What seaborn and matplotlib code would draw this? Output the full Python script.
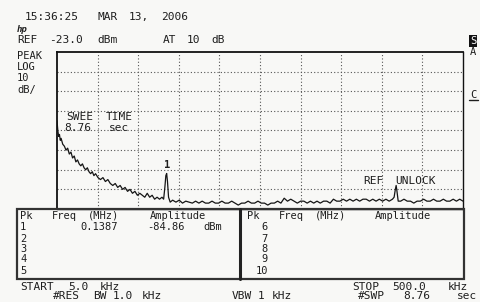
import matplotlib
matplotlib.use("Agg")
import matplotlib.pyplot as plt
import seaborn as sns
import pandas as pd
from matplotlib.patches import Rectangle
from matplotlib.lines import Line2D

# ---------------- data ----------------
freq_khz = [5, 6, 7, 8, 9, 10, 12, 14, 16, 18, 20, 22, 24, 26, 28, 30, 32, 34, 36, 38,
            40, 42, 44, 46, 48, 50, 52, 55, 58, 61, 64, 67, 70, 73, 76, 79, 82, 85, 88, 91,
            94, 97, 100, 103, 106, 109, 112, 115, 118, 121, 124, 127, 130, 133, 135, 136.5,
            137.7, 138.7, 139.7, 141, 143, 146, 150, 154, 158, 162, 166, 170, 174, 178, 182,
            186, 190, 194, 198, 202, 206, 210, 214, 218, 222, 226, 230, 234, 238, 242, 246,
            250, 254, 258, 262, 266, 270, 274, 278, 282, 286, 290, 294, 298, 302, 306, 310,
            314, 318, 322, 326, 330, 334, 338, 342, 346, 350, 354, 358, 362, 366, 370, 374,
            378, 382, 386, 390, 394, 398, 402, 406, 410, 414, 416, 417.5, 418.5, 419.5, 421,
            424, 428, 432, 436, 440, 444, 448, 452, 456, 460, 464, 468, 472, 476, 480, 484,
            488, 492, 496, 500]
amp_dbm = [-58, -63, -66, -65, -68, -67, -70, -71, -73, -72, -75, -74, -77, -76, -79, -78, -80, -81, -80, -82,
           -83, -82, -84, -85, -84, -86, -85, -87, -88, -87, -89, -88, -90, -91, -90, -92, -91, -93, -92, -94,
           -93, -95, -94, -96, -95, -96, -97, -95, -97, -96, -98, -97, -98, -97, -98, -92,
           -86, -84.9, -89, -97, -99.5, -98.5, -99.5, -98.5, -100, -99, -99.5, -100, -99, -100, -99,
           -100, -100, -99, -100, -100, -99, -100, -100, -99, -100, -101, -100, -100, -99, -100, -100,
           -99, -100, -100, -101, -100, -100, -99, -100, -97.5, -99, -98, -99, -100, -99, -99, -100,
           -99, -100, -99, -100, -99, -99, -100, -98, -99, -99, -98, -99, -98, -99, -98, -99,
           -98, -98, -99, -98, -99, -98, -99, -98, -99, -98, -97, -93, -91, -94, -99,
           -99, -98, -99, -99, -100, -99, -99, -98, -99, -99, -98, -99, -99, -98, -99, -99,
           -98, -99, -98, -99]

ref_level = -23.0
db_per_div = 10
start_khz, stop_khz = 5.0, 500.0

marker_rows = ["1", "2", "3", "4", "5"]
marker_rows_r = ["6", "7", "8", "9", "10"]
marker1_freq = "0.1387"
marker1_amp = "-84.86"

# ---------------- figure ----------------
W, H = 481, 302
sns.set_theme(style="white")
plt.rcParams["font.family"] = ["DejaVu Sans Mono"]
INK = "#1e1e1e"
BG = "#f8f8f6"

fig = plt.figure(figsize=(W / 100, H / 100), dpi=100)
fig.patch.set_facecolor(BG)

def fx(x):
    return x / W

def fy(y):
    return 1 - y / H

# main graticule axes (pixels: x 57..463, y 52..209)
L, R, T, B = 57, 463, 52, 209
ax = fig.add_axes([fx(L), fy(B), (R - L) / W, (B - T) / H])
ax.set_facecolor(BG)
df = pd.DataFrame({"freq": freq_khz, "amp": amp_dbm})
sns.lineplot(data=df, x="freq", y="amp", ax=ax, color="#151515", linewidth=0.9)
ax.set_xlim(start_khz, stop_khz)
ax.set_ylim(ref_level - 8 * db_per_div, ref_level)
step_x = (stop_khz - start_khz) / 10
ax.set_xticks([start_khz + step_x * i for i in range(1, 10)])
ax.set_yticks([ref_level - db_per_div * i for i in range(1, 8)])
ax.grid(True, linestyle=(0, (1, 2)), color="#555555", linewidth=0.8)
ax.tick_params(length=0, labelbottom=False, labelleft=False)
ax.set_xlabel("")
ax.set_ylabel("")
for side, sp in ax.spines.items():
    sp.set_color("#111111")
    sp.set_linewidth(1.3 if side in ("left", "top") else 1.0)

ax.text(138.7, -80.5, "1", ha="center", va="center", fontsize=7.5, color=INK, weight="bold")

FS = 8

def t(x, y, s, **kw):
    kw.setdefault("fontsize", FS)
    kw.setdefault("color", INK)
    fig.text(fx(x), fy(y), s, ha=kw.pop("ha", "left"), va="center", **kw)

def line(y, parts, **kw):
    for x, s in parts:
        t(x, y, s, **kw)

# header
line(17, [(25, "15:36:25"), (97, "MAR"), (129, "13,"), (161, "2006")])
t(17, 29, "hp", fontsize=6.5, style="italic", weight="bold")
line(40, [(17, "REF"), (49, "-23.0"), (97, "dBm")])
line(40, [(163, "AT"), (187, "10"), (211, "dB")])
t(17, 56, "PEAK", fontsize=7.5)
t(17, 67, "LOG", fontsize=7.5)
t(17, 78, "10", fontsize=7.5)
t(17, 90, "dB/", fontsize=7.5)
line(117, [(66, "SWEE"), (106, "TIME")])
line(128, [(64, "8.76"), (109, "sec")])
line(181, [(363, "REF"), (395, "UNLOCK")])

# right side soft keys
fig.text(fx(473), fy(41), "S", ha="center", va="center", fontsize=7.5, color="white",
         bbox=dict(boxstyle="square,pad=0.1", fc="#111111", ec="none"))
t(473, 52, "A", ha="center", fontsize=7.5)
t(473, 95, "C", ha="center", fontsize=7.5)
fig.add_artist(Line2D([fx(469), fx(478)], [fy(100), fy(100)], color=INK, lw=1))

# marker table box
TL, TR, TT, TB = 17, 464, 209, 279
fig.add_artist(Rectangle((fx(TL), fy(TB)), (TR - TL) / W, (TB - TT) / H,
                         fill=False, ec="#333333", lw=1.6))
fig.add_artist(Line2D([fx(240), fx(240)], [fy(TT), fy(TB)], color="#222222", lw=2.2))

TFS = 7.5
line(216, [(20, "Pk"), (52, "Freq"), (88, "(MHz)"), (150, "Amplitude")], fontsize=TFS)
line(216, [(247, "Pk"), (279, "Freq"), (315, "(MHz)"), (375, "Amplitude")], fontsize=TFS)
row_y = [227.5, 238.5, 249, 259.5, 270.5]
for r, y in zip(marker_rows, row_y):
    t(20, y, r, fontsize=TFS)
for r, y in zip(marker_rows_r, row_y):
    t(268, y, r, ha="right", fontsize=TFS)
t(80, 227.5, marker1_freq, fontsize=TFS)
t(147, 227.5, marker1_amp, fontsize=TFS)
t(203, 227.5, "dBm", fontsize=TFS)

# footer
line(286.5, [(20, "START"), (68, "5.0"), (100, "kHz")])
line(296, [(53, "#RES"), (93, "BW"), (113, "1.0"), (142, "kHz")])
line(296, [(232, "VBW"), (258, "1"), (272, "kHz")])
line(286.5, [(352, "STOP"), (392, "500.0"), (448, "kHz")])
line(296, [(358, "#SWP"), (403, "8.76"), (457, "sec")])

fig.savefig("out.png", dpi=100, facecolor=fig.get_facecolor())
